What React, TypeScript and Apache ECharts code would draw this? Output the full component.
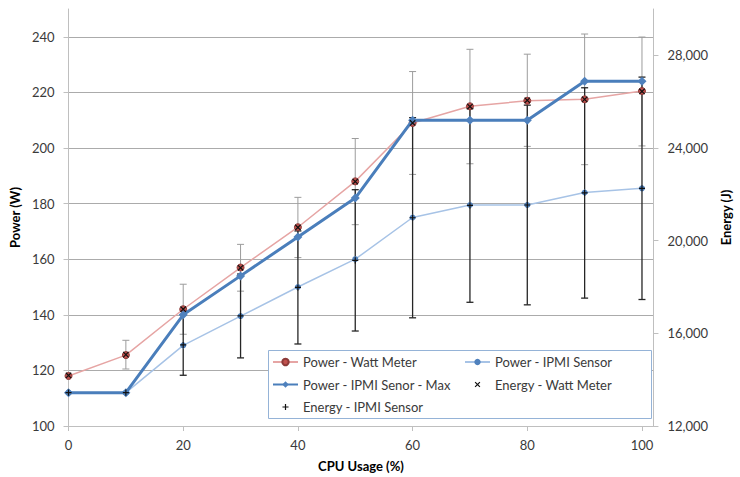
import React, { useEffect, useRef } from 'react';
import * as echarts from 'echarts';

const cpuUsage = [0, 10, 20, 30, 40, 50, 60, 70, 80, 90, 100];
const powerWattMeter = [118, 125.5, 142, 157, 171.5, 188, 209, 215, 217, 217.5, 220.5];
const powerIpmiSensor = [112, 112, 129, 139.5, 150, 160, 175, 179.5, 179.5, 184, 185.5];
const powerIpmiMax = [112, 112, 140, 154, 168, 182, 210, 210, 210, 224, 224];
const energyWattMeter = [14180, 15080, 17040, 18830, 20570, 22550, 25080, 25790, 26060, 26100, 26440];
const energyWattMeterErr = [0, 620, 1080, 1010, 1300, 1860, 2220, 2470, 1990, 2820, 2350];
const energyIpmiSensor = [13440, 13440, 15500, 16750, 17980, 19150, 20990, 21520, 21540, 22060, 22260];
const energyIpmiSensorErr = [0, 0, 1310, 1810, 2440, 3050, 4320, 4180, 4310, 4540, 4800];

const FONT = 'Lato';
const TEXT = '#3a3a3a';
const xMark = 'path://M0,0M10,10M2,2L8,8M8,2L2,8';
const plusMark = 'path://M0,0M10,10M5,1.2L5,8.8M1.2,5L8.8,5';

const pairs = (vals: number[]) => cpuUsage.map((x, i) => [x, vals[i]]);
const errData = (vals: number[], errs: number[]) =>
  cpuUsage
    .map((x, i) => [x, vals[i] - errs[i], vals[i] + errs[i]])
    .filter((d) => d[2] > d[1]);

const makeErrorRender = (color: string, width: number) => (_params: any, api: any) => {
  const x = api.value(0);
  const lo = api.coord([x, api.value(1)]);
  const hi = api.coord([x, api.value(2)]);
  const hw = 3.5;
  const style = { stroke: color, lineWidth: width, fill: 'none' };
  return {
    type: 'group',
    children: [
      { type: 'line', shape: { x1: lo[0], y1: lo[1], x2: hi[0], y2: hi[1] }, style },
      { type: 'line', shape: { x1: lo[0] - hw, y1: lo[1], x2: lo[0] + hw, y2: lo[1] }, style },
      { type: 'line', shape: { x1: hi[0] - hw, y1: hi[1], x2: hi[0] + hw, y2: hi[1] }, style },
    ],
  };
};

const axisLineStyle = { color: '#BFBFBF', width: 1 };

const legendCommon = {
  orient: 'vertical',
  itemWidth: 25,
  itemHeight: 8,
  itemGap: 8.5,
  padding: 0,
  z: 10,
  selectedMode: false,
  textStyle: { fontFamily: FONT, fontSize: 13, color: TEXT, lineHeight: 14 },
};

const option: any = {
  animation: false,
  backgroundColor: '#ffffff',
  grid: { left: 67, right: 75, top: 9, bottom: 50 },
  xAxis: {
    type: 'value',
    min: 0,
    max: 102,
    interval: 20,
    name: 'CPU Usage (%)',
    nameLocation: 'middle',
    nameGap: 33,
    nameTextStyle: { fontFamily: FONT, fontSize: 13, fontWeight: 'bold', color: '#000' },
    axisLine: { show: true, onZero: false, lineStyle: axisLineStyle },
    axisTick: { show: true, inside: false, length: 5, lineStyle: axisLineStyle },
    axisLabel: { showMaxLabel: false, margin: 12, fontFamily: FONT, fontSize: 13, color: TEXT },
    splitLine: { show: false },
  },
  yAxis: [
    {
      type: 'value',
      min: 100,
      max: 250,
      interval: 20,
      position: 'left',
      name: 'Power (W)',
      nameLocation: 'middle',
      nameRotate: 90,
      nameGap: 34,
      nameTextStyle: { fontFamily: FONT, fontSize: 13, fontWeight: 'bold', color: '#000' },
      axisLine: { show: true, onZero: false, lineStyle: axisLineStyle },
      axisTick: { show: true, inside: false, length: 5, lineStyle: axisLineStyle },
      axisLabel: { showMaxLabel: false, margin: 14, fontFamily: FONT, fontSize: 13, color: TEXT },
      splitLine: { show: true, showMaxLine: false, lineStyle: { color: '#ABABAB', width: 1 } },
    },
    {
      type: 'value',
      min: 12000,
      max: 30000,
      interval: 4000,
      position: 'right',
      name: 'Energy (J)',
      nameLocation: 'middle',
      nameRotate: 90,
      nameGap: 65,
      nameTextStyle: { fontFamily: FONT, fontSize: 13, fontWeight: 'bold', color: '#000' },
      axisLine: { show: true, onZero: false, lineStyle: axisLineStyle },
      axisTick: { show: true, inside: false, length: 5, lineStyle: axisLineStyle },
      axisLabel: { showMaxLabel: false, margin: 14, fontFamily: FONT, fontSize: 13, color: TEXT },
      splitLine: { show: false },
    },
  ],
  legend: [
    {
      ...legendCommon,
      left: 272,
      top: 355,
      data: [
        'Power - Watt Meter',
        'Power - IPMI Senor - Max',
        { name: 'Energy - IPMI Sensor', icon: plusMark, itemStyle: { color: 'rgba(0,0,0,0)', borderColor: '#111', borderWidth: 1.2 } },
      ],
    },
    {
      ...legendCommon,
      left: 464,
      top: 355,
      data: [
        'Power - IPMI Sensor',
        { name: 'Energy - Watt Meter', icon: xMark, itemStyle: { color: 'rgba(0,0,0,0)', borderColor: '#111', borderWidth: 1.2 } },
      ],
    },
  ],
  graphic: [
    {
      type: 'rect',
      x: 268.5,
      y: 350.5,
      z: 5,
      shape: { width: 383, height: 68 },
      style: { fill: '#ffffff', stroke: '#95B3D7', lineWidth: 1 },
      silent: true,
    },
  ],
  series: [
    {
      type: 'custom',
      xAxisIndex: 0,
      yAxisIndex: 1,
      silent: true,
      z: 1,
      encode: { x: 0, y: [1, 2] },
      data: errData(energyWattMeter, energyWattMeterErr),
      renderItem: makeErrorRender('#9C9C9C', 1),
    },
    {
      type: 'custom',
      xAxisIndex: 0,
      yAxisIndex: 1,
      silent: true,
      z: 1,
      encode: { x: 0, y: [1, 2] },
      data: errData(energyIpmiSensor, energyIpmiSensorErr),
      renderItem: makeErrorRender('#262626', 1.3),
    },
    {
      name: 'Power - Watt Meter',
      type: 'line',
      yAxisIndex: 0,
      data: pairs(powerWattMeter),
      symbol: 'circle',
      symbolSize: 7,
      lineStyle: { color: '#E6A5A4', width: 1.5 },
      itemStyle: { color: '#C0504D', borderColor: '#8C3A38', borderWidth: 1 },
      z: 2,
    },
    {
      name: 'Power - IPMI Sensor',
      type: 'line',
      yAxisIndex: 0,
      data: pairs(powerIpmiSensor),
      symbol: 'circle',
      symbolSize: 6,
      lineStyle: { color: '#A7C3E6', width: 1.5 },
      itemStyle: { color: '#4F81BD' },
      z: 2,
    },
    {
      name: 'Power - IPMI Senor - Max',
      type: 'line',
      yAxisIndex: 0,
      data: pairs(powerIpmiMax),
      symbol: 'diamond',
      symbolSize: 9,
      lineStyle: { color: '#4A7EBB', width: 3 },
      itemStyle: { color: '#4F81BD' },
      z: 3,
    },
    {
      name: 'Energy - Watt Meter',
      type: 'scatter',
      yAxisIndex: 1,
      data: pairs(energyWattMeter),
      symbol: xMark,
      symbolSize: 9,
      itemStyle: { color: 'rgba(0,0,0,0)', borderColor: '#111', borderWidth: 1.2, opacity: 1 },
      z: 4,
    },
    {
      name: 'Energy - IPMI Sensor',
      type: 'scatter',
      yAxisIndex: 1,
      data: pairs(energyIpmiSensor),
      symbol: plusMark,
      symbolSize: 8,
      itemStyle: { color: 'rgba(0,0,0,0)', borderColor: '#111', borderWidth: 1.2, opacity: 1 },
      z: 4,
    },
  ],
};

export default function App() {
  const ref = useRef<HTMLDivElement>(null);
  useEffect(() => {
    const chart = echarts.init(ref.current!, null, { renderer: 'svg' });
    chart.setOption(option);
    return () => chart.dispose();
  }, []);
  return (
    <div
      ref={ref}
      style={{ position: 'fixed', left: 0, top: 0, width: 740, height: 477, background: '#fff' }}
    />
  );
}
